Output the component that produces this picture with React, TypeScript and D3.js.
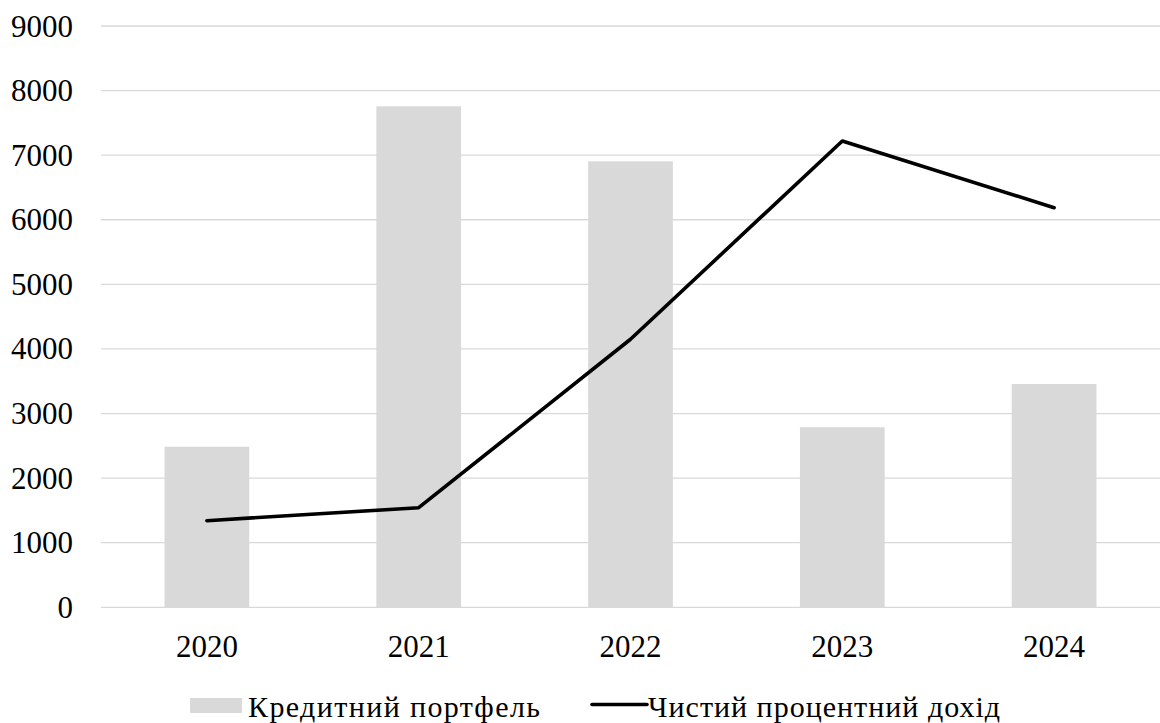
import React from "react";
import * as d3 from "d3";

const years = ["2020", "2021", "2022", "2023", "2024"];
const loanPortfolio = [2486, 7757, 6905, 2787, 3457];
const netInterestIncome = [1341, 1542, 4150, 7219, 6187];
const yTicks = [0, 1000, 2000, 3000, 4000, 5000, 6000, 7000, 8000, 9000];
const legendLabels = ["Кредитний портфель", "Чистий процентний дохід"];

const W = 1160;
const H = 723;
const FONT = '"Liberation Serif", "Times New Roman", Times, serif';

export default function App() {
  const x = d3.scaleBand<string>().domain(years).range([101, 1160]).padding(0);
  const y = d3.scaleLinear().domain([0, 9000]).range([607.3, 26]);
  const barW = x.bandwidth() * 0.4;
  const cx = (d: string) => (x(d) as number) + x.bandwidth() / 2;

  const line = d3
    .line<number>()
    .x((_, i) => cx(years[i]))
    .y((v) => y(v));

  const ts: React.CSSProperties = { fontFamily: FONT };

  return (
    <svg
      width={W}
      height={H}
      style={{ position: "absolute", left: 0, top: 0, background: "#fff", fontFamily: FONT }}
    >
      <rect width={W} height={H} fill="#fff" />
      {yTicks.map((t) => (
        <g key={t}>
          <line x1={101} x2={1160} y1={y(t)} y2={y(t)} stroke="#d9d9d9" strokeWidth={1.3} />
          <text x={73} y={y(t)} textAnchor="end" dominantBaseline="central" fontSize={31} fill="#000" style={ts}>
            {t}
          </text>
        </g>
      ))}
      {years.map((yr, i) => (
        <rect
          key={yr}
          x={cx(yr) - barW / 2}
          y={y(loanPortfolio[i])}
          width={barW}
          height={y(0) - y(loanPortfolio[i])}
          fill="#d9d9d9"
        />
      ))}
      <path
        d={line(netInterestIncome) || ""}
        fill="none"
        stroke="#000"
        strokeWidth={3.6}
        strokeLinejoin="round"
        strokeLinecap="round"
      />
      {years.map((yr) => (
        <text key={yr} x={cx(yr)} y={657} textAnchor="middle" fontSize={31} fill="#000" style={ts}>
          {yr}
        </text>
      ))}
      <rect x={190} y={698} width={52} height={15} fill="#d9d9d9" />
      <text x={248} y={716.7} fontSize={30} fill="#000" style={ts} textLength={292} lengthAdjust="spacing">
        {legendLabels[0]}
      </text>
      <line x1={592} x2={647} y1={704.5} y2={704.5} stroke="#000" strokeWidth={3.6} strokeLinecap="round" />
      <text x={648} y={716.7} fontSize={30} fill="#000" style={ts} textLength={352} lengthAdjust="spacing">
        {legendLabels[1]}
      </text>
    </svg>
  );
}
